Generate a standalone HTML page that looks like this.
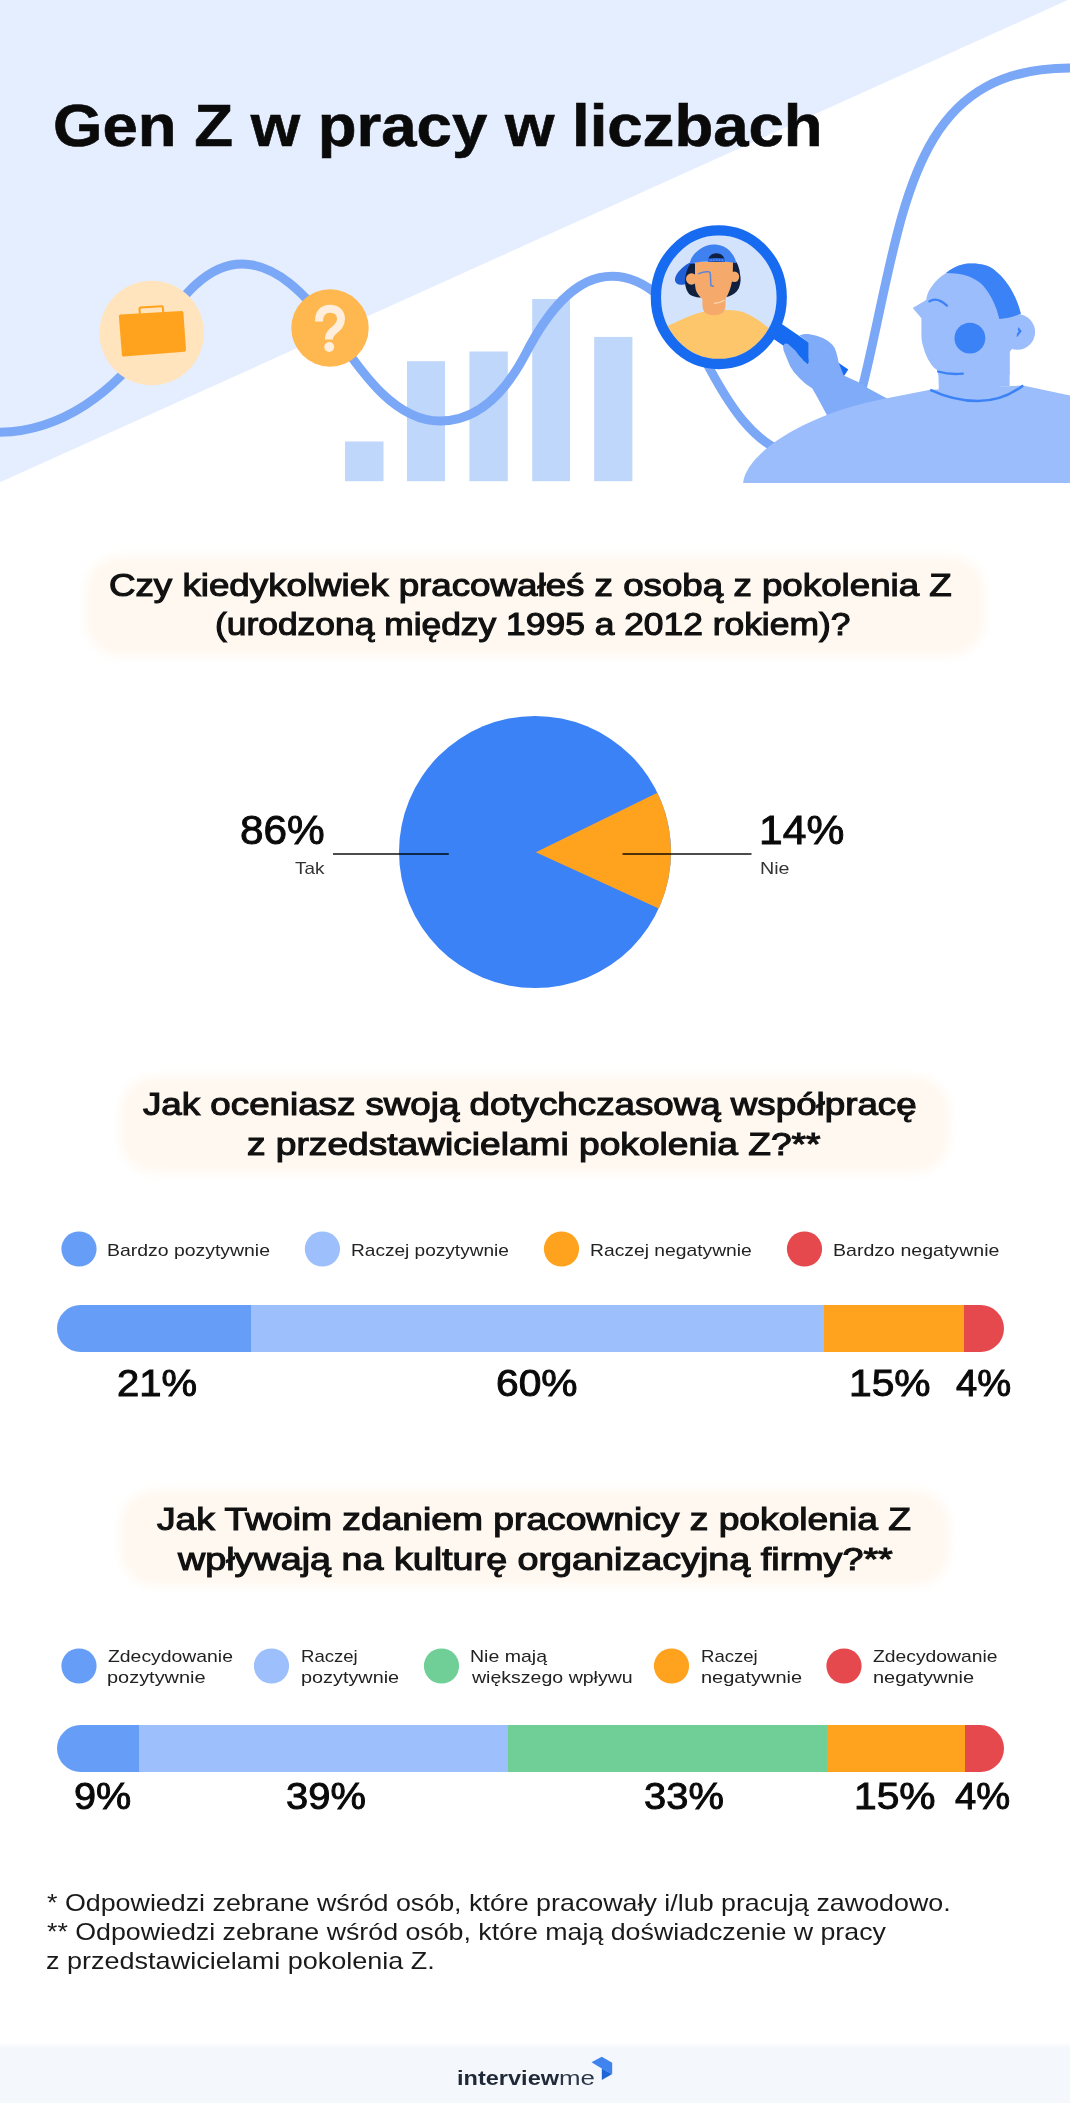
<!DOCTYPE html>
<html lang="pl"><head><meta charset="utf-8"><title>Gen Z w pracy w liczbach</title>
<style>
html,body{margin:0;padding:0;background:#fff;}
body{width:1070px;height:2103px;position:relative;overflow:hidden;font-family:"Liberation Sans",sans-serif;}
#g{position:absolute;left:0;top:0;}
.t{position:absolute;white-space:nowrap;line-height:1;transform-origin:0 0;}
.q{position:absolute;background:#fff8f0;border-radius:36px;filter:blur(4px);}
#foot{position:absolute;left:0;top:2043px;width:1070px;height:60px;background:linear-gradient(#fff 0,#f4f7fc 5px,#f4f7fc 100%);}
</style></head><body>
<div id="foot"></div>
<div class="q" style="left:85px;top:556px;width:900px;height:99.5px"></div>
<div class="q" style="left:119.5px;top:1076px;width:830.5px;height:97px"></div>
<div class="q" style="left:119.5px;top:1490px;width:830px;height:96px"></div>
<svg id="g" width="1070" height="2103" viewBox="0 0 1070 2103">
<path d="M0,0 H1070 V-1 L0,482.3 Z" fill="#e5eefe"/>
<g fill="#bfd7fb">
<rect x="345" y="441.5" width="38.5" height="39.7"/>
<rect x="407" y="361.2" width="38" height="120"/>
<rect x="469.4" y="351.5" width="38.4" height="129.7"/>
<rect x="532.2" y="299" width="37.8" height="182.2"/>
<rect x="594.2" y="336.9" width="38.2" height="144.3"/>
</g>
<path d="M-12,433 L0,432.3 C62,431 115,392 152,338 C184,293.2 208,264 242,264 C275,264 305,292 335,334 C359,368 393,421 440,421 C478,421 505,393 525,355 C546,314 574,276.2 612,276.2 C650,276.2 680,312 704,358 C722,392.5 755,456 805,456 C850,456 860,400 873.3,340 C906,190 922,68 1070,68 L1085,68" fill="none" stroke="#7ba7f7" stroke-width="9"/>
<circle cx="151.7" cy="333" r="52.2" fill="#ffe4bd"/>
<path d="M120.5,314.6 L181.5,311 Q183.2,310.9 183.4,312.6 L186,349.8 Q186.1,351.5 184.4,351.7 L123.8,356.5 Q122.1,356.6 121.9,354.9 L118.9,316.4 Q118.8,314.7 120.5,314.6 Z" fill="#ffa31f"/>
<path d="M139.9,314 L139.5,309 Q139.4,307.6 140.8,307.5 L161.4,306.3 Q162.8,306.2 162.9,307.6 L163.2,312.6" fill="none" stroke="#ffa31f" stroke-width="2"/>
<circle cx="330" cy="328" r="38.7" fill="#ffb74f"/>
<path d="M319,321.6 C319,313 323,308.7 330,308.7 C337,308.7 341,313 341,319 C341,325 337,328 333.2,331 C330,333.5 328.9,336 328.9,339.6" fill="none" stroke="#ffeedc" stroke-width="8"/>
<circle cx="329.2" cy="347" r="5" fill="#ffeedc"/>
<path d="M780.3,323.1 L848.3,369.5 L845,374.4 L838.7,383.5 L770.7,337.1 Z" fill="#176bf0"/>
<path d="M783.6,344.9 Q785,342.6 788,344 L795.3,350.6 L803.2,360.4 L808.4,365 L808.4,342.7 Q803,338 799.3,335.5 Q804,333.6 809.7,334.2 Q817,335 822.8,338.1 Q831,342 834.6,347.9 Q837,353 838.5,362.3 L843.7,375.4 L858.1,382 L868.6,388.5 L885.6,397.7 L900,403 L830,420 L826.7,414.7 L817.6,397.7 L812.3,388.5 Q805,384 799.3,378 Q793,372 790.1,366.3 L783.6,350.6 Q782.3,347 783.6,344.9 Z" fill="#80abf9"/>
<path d="M795.3,350.6 L808.4,359 L808.4,365 L803.2,360.4 Z" fill="#176bf0"/>
<path d="M743.1,482.9 C746,455 800,415 885.6,398.5 L930.2,389.8 L1023.1,385.4 L1070,395.4 L1070,482.9 Z" fill="#9bbdfb"/>
<path d="M938.1,365 L1009.6,345 L1009.6,386 L938.9,392 Z" fill="#9bbdfb"/>
<path d="M930.2,389.8 C948,398 962,401 977.9,401 C996,401 1012,394 1023.1,385.4" fill="none" stroke="#3b82f6" stroke-width="2.5"/>
<ellipse cx="1017.5" cy="332" rx="17.6" ry="17.8" fill="#9bbdfb"/>
<path d="M1016.3,326.8 L1020.3,331 L1016.8,335.6" fill="none" stroke="#3b82f6" stroke-width="2.4" stroke-linecap="round" stroke-linejoin="round"/>
<path d="M946,273 C956,265 964,263.5 971.5,263.5 C982,263.5 990,266 995.3,270.7 C1003,277 1008,284 1011.2,289.7 C1016,298 1019,306 1020.8,313.6 L1015,345 L1009.6,352 L1009.6,375 L938.1,375 L938.1,370.8 C934,368 932,366 930.2,362.8 C927,358 925,353 923.8,348.5 C922,343 921.4,339 921.4,334.2 L921.4,318.3 L912.7,308 L926.2,300 C927,294 929,290 931.8,286.5 C935,281 940,277 946,273 Z" fill="#9bbdfb"/>
<path d="M946,273 C956,265 964,263.5 971.5,263.5 C982,263.5 990,266 995.3,270.7 C1003,277 1008,284 1011.2,289.7 C1016,298 1019,306 1020.8,313.6 C1014,317 1006,318.6 999.3,319.1 C998,313 996,307 993.7,302.4 C991,296 987,290 982.6,285 C978,280.5 973,278 968.3,276.2 C962,274 954,273 946,273 Z" fill="#3b82f6"/>
<circle cx="969.9" cy="338.2" r="15.4" fill="#3b82f6"/>
<path d="M929.4,301.4 Q937,296.5 946.9,305.6" fill="none" stroke="#3b82f6" stroke-width="2.3" stroke-linecap="round"/>
<path d="M938.1,371.5 Q950,375 962.8,373.6" fill="none" stroke="#3b82f6" stroke-width="2.3" stroke-linecap="round"/>
<clipPath id="lens"><ellipse cx="718.8" cy="297.2" rx="58" ry="62"/></clipPath>
<ellipse cx="718.8" cy="297.2" rx="58" ry="62" fill="#d4e3fc"/>
<g clip-path="url(#lens)">
<path d="M655,336 C660,329 664,327.2 667.8,325.8 C678,321 690,315 702.4,311.9 L726.7,310 C731,309.6 737,310.4 741,311.6 C750,314.5 759,320 765.6,325.8 C772,330 778,335 780,340 L780,372 L655,372 Z" fill="#fec66a"/>
<path d="M692,261.5 C684,265 676.5,272 675,278.5 C674.3,283 678,285.3 683,284.8 C689,284 694,276 699,266 Z" fill="#1f5fd6"/>
<path d="M690.2,264 C686,270 684.5,278 685.4,285.7 C686.5,291 688.5,294 691.4,295.5 C694,296.8 696,297.2 699,297.4 L727.9,296.7 C733,295 736.5,292.5 738.8,288.2 C741,283 741,278 740,274 C739.5,269 738.5,266 736.4,262 Z" fill="#10203f"/>
<path d="M702.4,290 L725.5,290 L725.5,305 Q725.5,315.2 713.9,315.2 Q702.4,315.2 702.4,305 Z" fill="#f5a96b"/>
<path d="M695,262 L733,262 L732.8,273.6 C732.5,280 731.5,285 730.3,288.2 C729,292.5 727,296 725.5,299 L720,303 L708,303 L701.2,297.9 C698.5,295 696.5,292.5 695.7,289.4 C694.8,285 694.7,280 695,276 Z" fill="#f5a96b"/>
<ellipse cx="691.6" cy="279" rx="5.6" ry="5.8" fill="#f5a96b"/><ellipse cx="734.4" cy="276.8" rx="4.8" ry="5.2" fill="#f5a96b"/>
<path d="M689.8,263.5 C690.5,258 693.5,254.5 697.5,251.1 C700.5,248.5 703.5,246.5 707.2,245.4 C709.5,244.7 711.5,244.4 713.3,244.4 C717,244.4 720,245 723,246.3 C726.5,248 729,250 731.5,252.9 C733.5,255.5 735,258 736.6,263.2 C721,260.5 705,260.5 689.8,263.5 Z" fill="#4081f2"/>
<path d="M707.9,262 C707.9,256.5 711.5,253.2 716.4,253.2 C721.3,253.2 724.9,256.5 724.9,262 Z" fill="#10203f"/>
<path d="M708,260.2 Q716.4,259.4 724.9,260.2" stroke="#2f6be0" stroke-width="3.4" fill="none"/>
<path d="M710.5,260.2 H723" stroke="#7fa8f5" stroke-width="1" stroke-dasharray="1.2 1.6" fill="none"/>
<path d="M698.7,273.6 Q704,271.2 708.5,271.8 Q710.2,272 710.3,273.6 L710.9,285.6 L713.3,286.2" fill="none" stroke="#5b86d6" stroke-width="1.5" stroke-linecap="round" stroke-linejoin="round"/>
<path d="M713.9,303.4 Q720,303.2 724.3,300.3" fill="none" stroke="#ffd9b5" stroke-width="1.1"/>
</g>
<ellipse cx="718.8" cy="297.2" rx="62.9" ry="66.8" fill="none" stroke="#176bf0" stroke-width="10.3"/>
<circle cx="535.0" cy="852.0" r="136" fill="#3b82f6"/><path d="M535.8,852.2 L657.4,792.8 A136,136 0 0 1 658.8,908.4 Z" fill="#ffa31f"/><rect x="333" y="853.3" width="115.8" height="1.4" fill="#000"/><rect x="622.5" y="853.3" width="129" height="1.4" fill="#000"/>
<clipPath id="b1"><rect x="57" y="1305" width="947" height="47" rx="23.5"/></clipPath><g clip-path="url(#b1)"><rect x="57" y="1305" width="194" height="47" fill="#669df6"/><rect x="251" y="1305" width="573" height="47" fill="#9dbffb"/><rect x="824" y="1305" width="140" height="47" fill="#ffa31f"/><rect x="964" y="1305" width="40" height="47" fill="#e5484d"/></g>
<clipPath id="b2"><rect x="57" y="1725" width="947" height="47" rx="23.5"/></clipPath><g clip-path="url(#b2)"><rect x="57" y="1725" width="82" height="47" fill="#669df6"/><rect x="139" y="1725" width="369" height="47" fill="#9dbffb"/><rect x="508" y="1725" width="319" height="47" fill="#6fcf97"/><rect x="827" y="1725" width="138" height="47" fill="#ffa31f"/><rect x="965" y="1725" width="39" height="47" fill="#e5484d"/></g>
<circle cx="79" cy="1249" r="17.6" fill="#669df6"/>
<circle cx="322.4" cy="1249" r="17.6" fill="#9dbffb"/>
<circle cx="561.5" cy="1249" r="17.6" fill="#ffa31f"/>
<circle cx="804.5" cy="1249" r="17.6" fill="#e5484d"/>
<circle cx="79" cy="1666" r="17.6" fill="#669df6"/>
<circle cx="271.5" cy="1666" r="17.6" fill="#9dbffb"/>
<circle cx="441.5" cy="1666" r="17.6" fill="#6fcf97"/>
<circle cx="671.5" cy="1666" r="17.6" fill="#ffa31f"/>
<circle cx="844" cy="1666" r="17.6" fill="#e5484d"/>
<path d="M591.5,2062.2 L601.8,2056.8 L612.2,2062.7 L612.2,2074 L601.8,2068.6 Z" fill="#3f83ee"/><path d="M601.8,2068.6 L612.2,2074 L601.8,2079.9 Z" fill="#1e66d6"/>
</svg>
<div class="t " style="left:52.5px;top:96.6px;font-size:59px;transform:scaleX(1.0768);color:#0a0a0a;font-weight:bold;-webkit-text-stroke:0.6px #0a0a0a;">Gen Z w pracy w liczbach</div>
<div class="t " style="left:108.8px;top:570.2px;font-size:30.5px;transform:scaleX(1.2037);color:#111;-webkit-text-stroke:1.1px #111;">Czy kiedykolwiek pracowałeś z osobą z pokolenia Z</div>
<div class="t " style="left:214.9px;top:609.2px;font-size:30.5px;transform:scaleX(1.1602);color:#111;-webkit-text-stroke:1.1px #111;">(urodzoną między 1995 a 2012 rokiem)?</div>
<div class="t " style="left:239.8px;top:810.3px;font-size:40px;transform:scaleX(1.0584);color:#0a0a0a;-webkit-text-stroke:0.9px #0a0a0a;">86%</div>
<div class="t " style="left:294.6px;top:860.0px;font-size:16.5px;transform:scaleX(1.1450);color:#333;">Tak</div>
<div class="t " style="left:758.8px;top:810.3px;font-size:40px;transform:scaleX(1.0648);color:#0a0a0a;-webkit-text-stroke:0.9px #0a0a0a;">14%</div>
<div class="t " style="left:759.9px;top:860.0px;font-size:16.5px;transform:scaleX(1.1946);color:#333;">Nie</div>
<div class="t " style="left:143.4px;top:1089.4px;font-size:30.5px;transform:scaleX(1.2040);color:#111;-webkit-text-stroke:1.1px #111;">Jak oceniasz swoją dotychczasową współpracę</div>
<div class="t " style="left:247.1px;top:1128.7px;font-size:30.5px;transform:scaleX(1.2169);color:#111;-webkit-text-stroke:1.1px #111;">z przedstawicielami pokolenia Z?**</div>
<div class="t " style="left:107.4px;top:1241.6px;font-size:17px;transform:scaleX(1.1423);color:#222;">Bardzo pozytywnie</div>
<div class="t " style="left:351.3px;top:1241.6px;font-size:17px;transform:scaleX(1.1217);color:#222;">Raczej pozytywnie</div>
<div class="t " style="left:590.0px;top:1241.6px;font-size:17px;transform:scaleX(1.1338);color:#222;">Raczej negatywnie</div>
<div class="t " style="left:833.4px;top:1241.6px;font-size:17px;transform:scaleX(1.1505);color:#222;">Bardzo negatywnie</div>
<div class="t " style="left:116.7px;top:1365.2px;font-size:37px;transform:scaleX(1.0811);color:#0a0a0a;-webkit-text-stroke:0.95px #0a0a0a;">21%</div>
<div class="t " style="left:496.0px;top:1365.2px;font-size:37px;transform:scaleX(1.1008);color:#0a0a0a;-webkit-text-stroke:0.95px #0a0a0a;">60%</div>
<div class="t " style="left:848.9px;top:1365.2px;font-size:37px;transform:scaleX(1.1011);color:#0a0a0a;-webkit-text-stroke:0.95px #0a0a0a;">15%</div>
<div class="t " style="left:956.2px;top:1365.2px;font-size:37px;transform:scaleX(1.0305);color:#0a0a0a;-webkit-text-stroke:0.95px #0a0a0a;">4%</div>
<div class="t " style="left:157.4px;top:1504.4px;font-size:30.5px;transform:scaleX(1.2197);color:#111;-webkit-text-stroke:1.1px #111;">Jak Twoim zdaniem pracownicy z pokolenia Z</div>
<div class="t " style="left:177.9px;top:1543.7px;font-size:30.5px;transform:scaleX(1.2365);color:#111;-webkit-text-stroke:1.1px #111;">wpływają na kulturę organizacyjną firmy?**</div>
<div class="t " style="left:107.9px;top:1647.6px;font-size:17px;transform:scaleX(1.1396);color:#222;">Zdecydowanie</div>
<div class="t " style="left:107.2px;top:1668.6px;font-size:17px;transform:scaleX(1.1728);color:#222;">pozytywnie</div>
<div class="t " style="left:300.5px;top:1647.6px;font-size:17px;transform:scaleX(1.0916);color:#222;">Raczej</div>
<div class="t " style="left:300.7px;top:1668.6px;font-size:17px;transform:scaleX(1.1667);color:#222;">pozytywnie</div>
<div class="t " style="left:469.9px;top:1647.6px;font-size:17px;transform:scaleX(1.1476);color:#222;">Nie mają</div>
<div class="t " style="left:471.6px;top:1668.6px;font-size:17px;transform:scaleX(1.1491);color:#222;">większego wpływu</div>
<div class="t " style="left:700.5px;top:1647.6px;font-size:17px;transform:scaleX(1.0916);color:#222;">Raczej</div>
<div class="t " style="left:700.7px;top:1668.6px;font-size:17px;transform:scaleX(1.1753);color:#222;">negatywnie</div>
<div class="t " style="left:873.4px;top:1647.6px;font-size:17px;transform:scaleX(1.1349);color:#222;">Zdecydowanie</div>
<div class="t " style="left:872.7px;top:1668.6px;font-size:17px;transform:scaleX(1.1753);color:#222;">negatywnie</div>
<div class="t " style="left:74.2px;top:1778.2px;font-size:37px;transform:scaleX(1.0692);color:#0a0a0a;-webkit-text-stroke:0.95px #0a0a0a;">9%</div>
<div class="t " style="left:285.6px;top:1778.2px;font-size:37px;transform:scaleX(1.0783);color:#0a0a0a;-webkit-text-stroke:0.95px #0a0a0a;">39%</div>
<div class="t " style="left:643.6px;top:1778.2px;font-size:37px;transform:scaleX(1.0783);color:#0a0a0a;-webkit-text-stroke:0.95px #0a0a0a;">33%</div>
<div class="t " style="left:853.9px;top:1778.2px;font-size:37px;transform:scaleX(1.1011);color:#0a0a0a;-webkit-text-stroke:0.95px #0a0a0a;">15%</div>
<div class="t " style="left:955.2px;top:1778.2px;font-size:37px;transform:scaleX(1.0305);color:#0a0a0a;-webkit-text-stroke:0.95px #0a0a0a;">4%</div>
<div class="t " style="left:47.1px;top:1891.0px;font-size:24px;transform:scaleX(1.1178);color:#1a1a1a;">* Odpowiedzi zebrane wśród osób, które pracowały i/lub pracują zawodowo.</div>
<div class="t " style="left:47.1px;top:1920.3px;font-size:24px;transform:scaleX(1.1150);color:#1a1a1a;">** Odpowiedzi zebrane wśród osób, które mają doświadczenie w pracy</div>
<div class="t " style="left:46.4px;top:1949.2px;font-size:24px;transform:scaleX(1.1256);color:#1a1a1a;">z przedstawicielami pokolenia Z.</div>
<div class="t " style="left:457.0px;top:2066.5px;font-size:21px;transform:scaleX(1.1210);color:#1f2937;font-weight:bold;">interview</div>
<div class="t " style="left:558.9px;top:2066.5px;font-size:21px;transform:scaleX(1.2303);color:#2d3748;">me</div>
</body></html>
